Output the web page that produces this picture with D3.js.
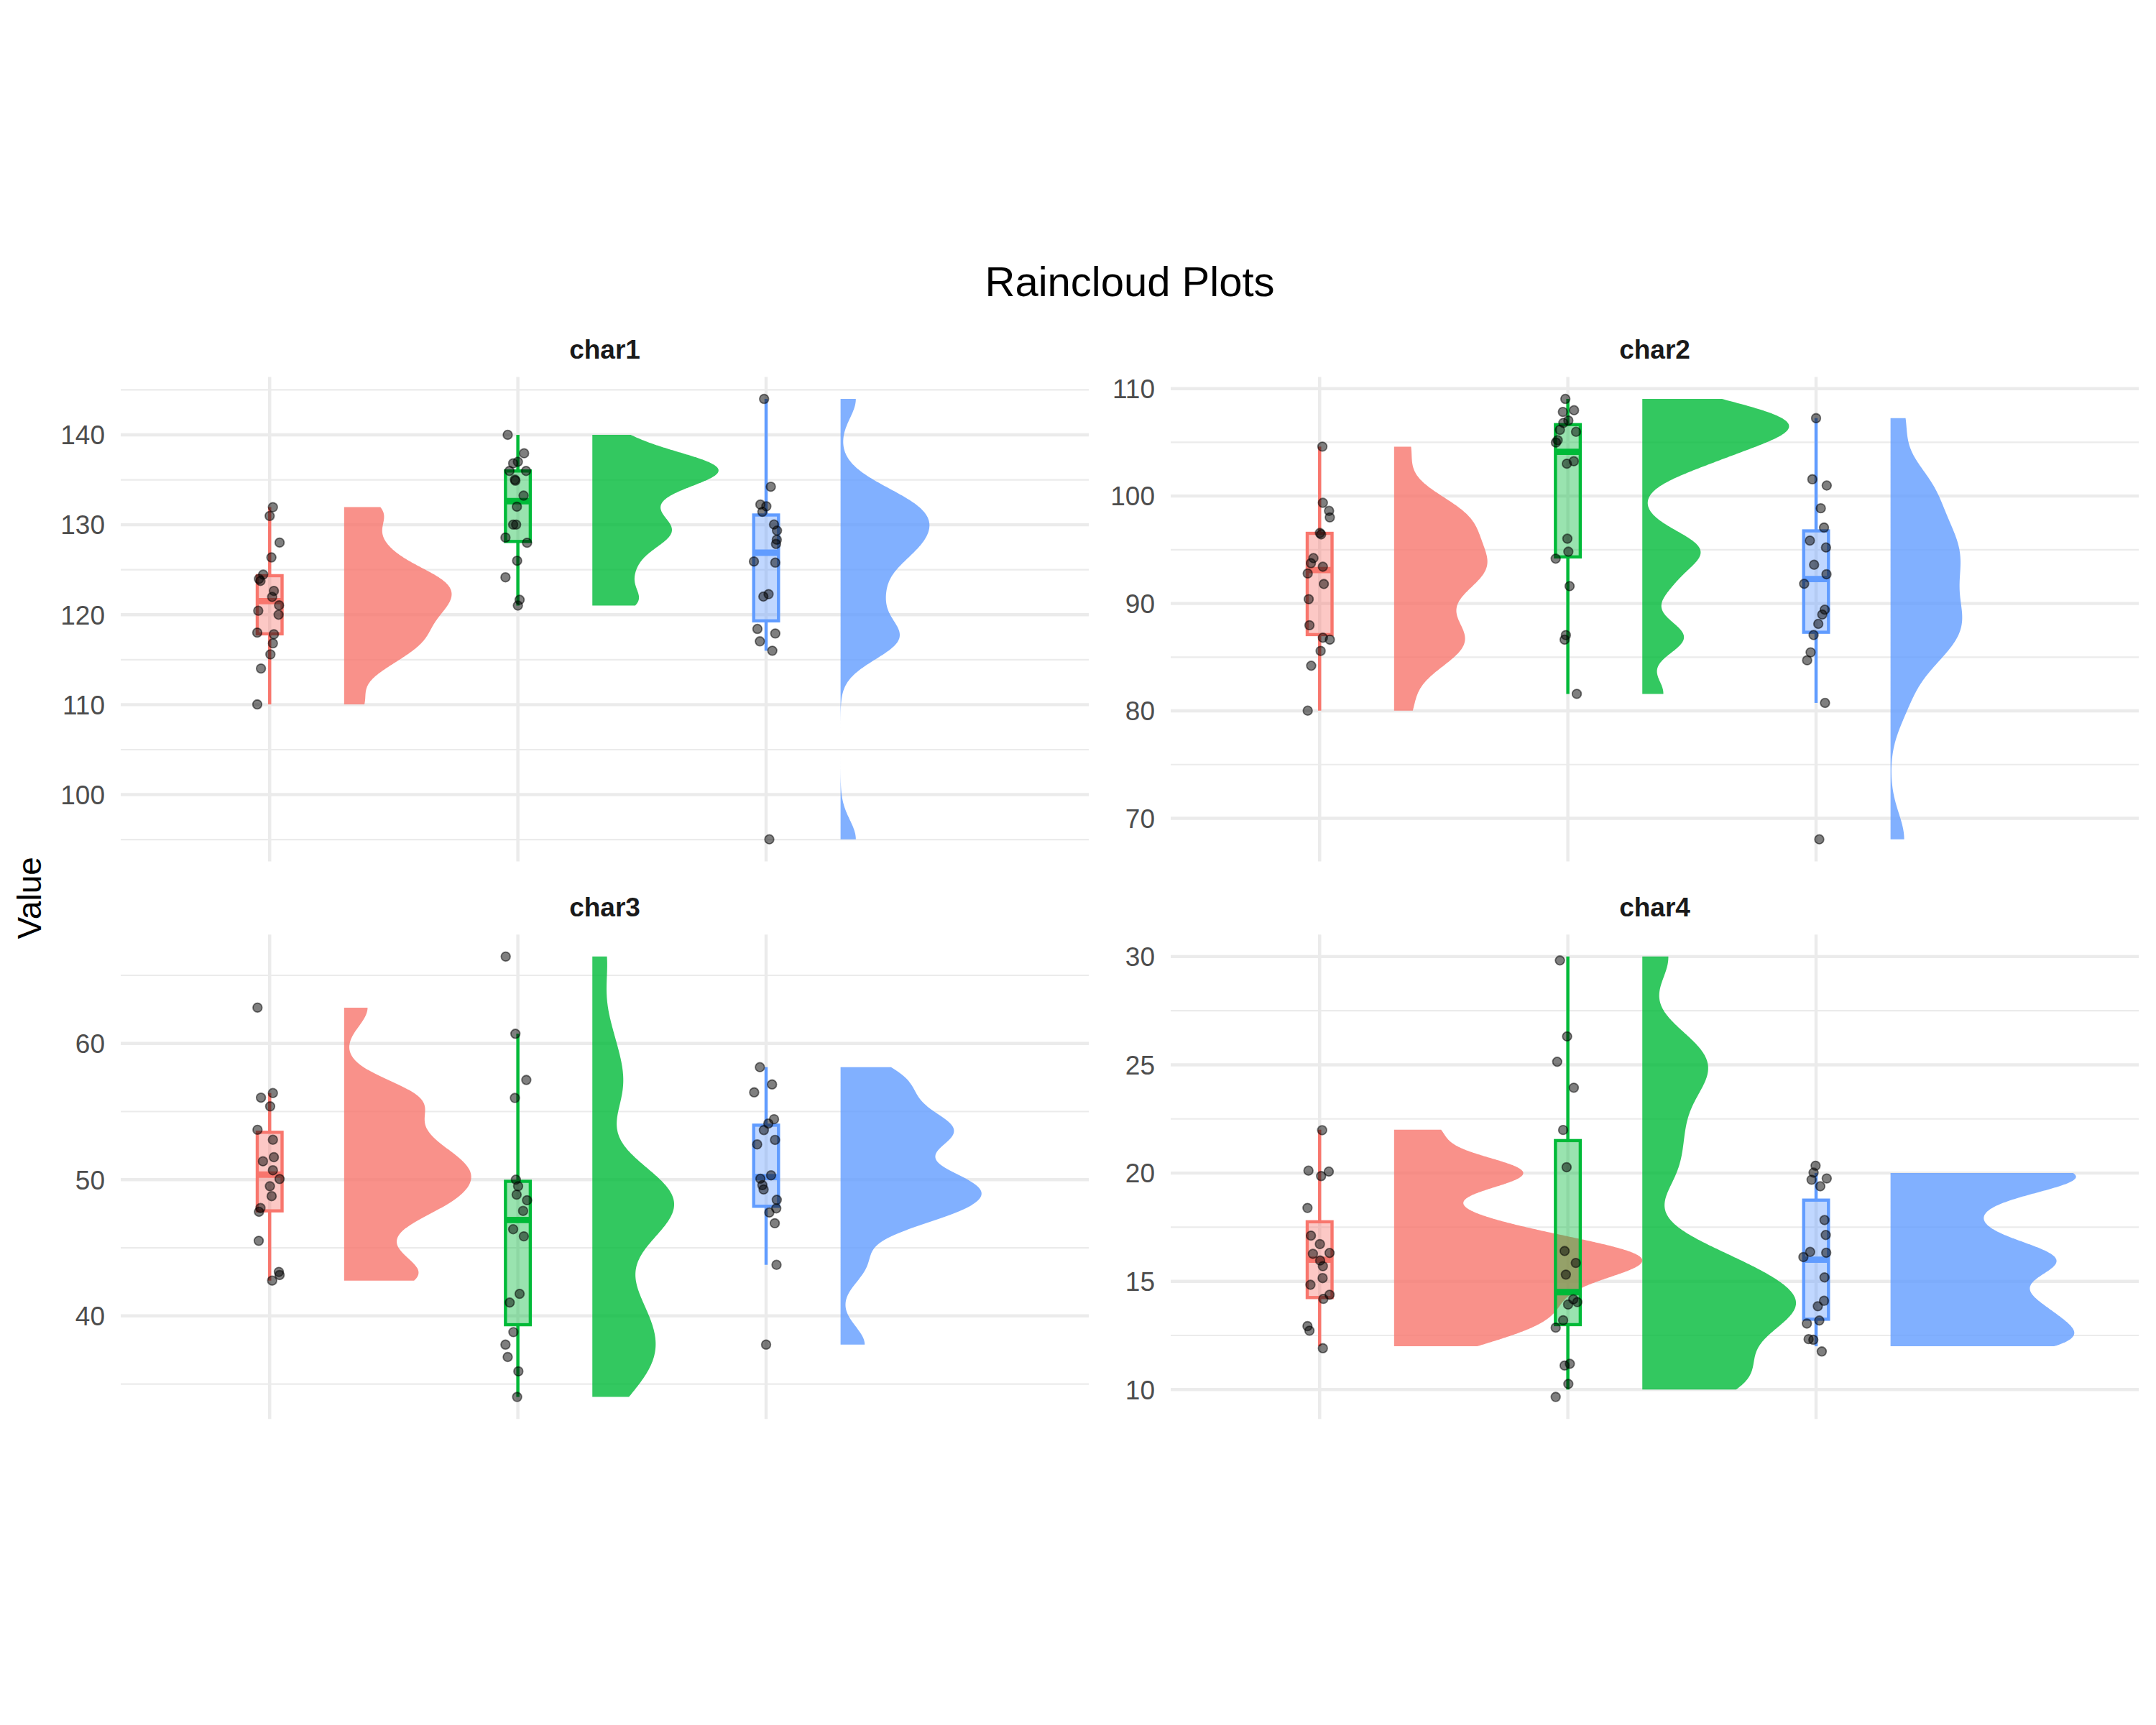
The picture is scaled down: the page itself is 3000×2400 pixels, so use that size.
<!DOCTYPE html>
<meta charset="utf-8">
<body style="margin:0;background:white">
  <div id="content"></div>
</body>
<script src="https://d3js.org/d3.v7.min.js"></script>
<script>
var facets = ["char1", "char2", "char3", "char4"];
var groups = ["g1", "g2", "g3"];
var colors = ["#F8766D", "#00BA38", "#619CFF"];

// each point: [value, x jitter]
var char1G1 = [[131.96, .013], [130.98, 0], [128.02, .040], [126.37, .007], [124.46, -.026], [123.98, -.043],
  [123.76, -.037], [122.65, .017], [121.98, .010], [121.05, .038], [120.44, -.046], [120.00, .036],
  [118.01, -.050], [117.83, .017], [116.82, .013], [115.59, .003], [114.02, -.035], [110.03, -.050]];
var char1G2 = [[140.00, -.041], [137.95, .025], [137.00, 0], [136.83, -.019], [135.98, -.034], [135.98, .033],
  [135.02, -.012], [134.90, -.010], [133.24, .023], [132.01, -.004], [130.02, -.019], [130.02, -.007],
  [128.58, -.050], [128.00, .037], [126.00, -.003], [124.16, -.050], [121.66, .007], [121.02, 0]];
var char1G3 = [[143.99, -.008], [134.23, .019], [132.25, -.023], [132.05, .001], [131.44, -.015], [130.03, .032],
  [129.35, .044], [128.34, .043], [127.87, .040], [125.92, -.049], [125.79, .037], [122.29, .010],
  [122.02, -.011], [118.42, -.035], [117.91, .037], [117.04, -.025], [116.00, .025], [95.03, .013]];

var char2G1 = [[104.60, .011], [99.37, .013], [98.62, .038], [98.01, .041], [96.56, .001], [96.43, .006],
  [94.22, -.025], [93.75, -.035], [93.42, .013], [92.79, -.048], [91.81, .017], [90.40, -.044],
  [87.97, -.041], [86.81, .013], [86.63, .041], [85.58, .004], [84.20, -.034], [80.02, -.048]];
var char2G2 = [[109.04, -.010], [107.99, .025], [107.83, -.020], [107.03, .002], [106.81, -.018], [106.16, -.032],
  [105.98, .033], [105.20, -.041], [104.98, -.048], [103.24, .024], [103.01, -.004], [96.03, -.002],
  [94.82, .002], [94.17, -.049], [91.61, .007], [87.05, -.008], [86.63, -.013], [81.58, .036]];
var char2G3 = [[107.25, 0], [101.56, -.015], [100.98, .043], [98.86, .019], [97.06, .032], [95.85, -.025],
  [95.21, .040], [93.60, -.008], [92.72, .042], [91.83, -.048], [89.42, .035], [88.97, .025],
  [88.10, .009], [87.06, -.010], [85.45, -.022], [84.71, -.036], [80.74, .036], [68.04, .013]];

var char3G1 = [[62.63, -.049], [56.36, .013], [56.02, -.035], [55.38, .002], [53.66, -.049], [52.93, .013],
  [51.65, .017], [51.35, -.027], [50.69, .013], [50.05, .040], [49.52, .001], [48.79, .008],
  [47.92, -.037], [47.64, -.043], [45.51, -.044], [43.23, .037], [43.00, .040], [42.59, .010]];
var char3G2 = [[66.38, -.049], [60.71, -.010], [57.32, .034], [56.00, -.012], [50.00, -.008], [49.52, .001],
  [48.90, -.005], [48.49, .037], [47.71, .021], [46.36, -.019], [45.84, .024], [41.62, .007],
  [40.98, -.033], [38.81, -.018], [37.89, -.050], [36.98, -.041], [35.93, .002], [34.05, -.003]];
var char3G3 = [[58.26, -.025], [56.99, .024], [56.41, -.048], [54.44, .032], [54.12, .009], [53.64, -.009],
  [52.92, .036], [52.59, -.036], [50.32, .020], [50.07, -.023], [49.60, -.015], [49.28, -.010],
  [48.52, .043], [47.89, .041], [47.59, .013], [46.80, .035], [43.75, .042], [37.89, 0]];

// char4 is whole numbers; its points were jittered up/down too: [value, x jitter, y jitter]
var char4G1 = [[22, .010, -.02], [20, -.045, .11], [20, .037, .07], [20, .006, -.14], [18, -.049, .39], [17, -.035, .11],
  [17, .001, -.28], [16, -.027, .27], [16, .040, .31], [16, .002, -.04], [16, .013, -.30], [15, .012, .15],
  [15, -.037, -.16], [14, .040, .38], [14, .015, .19], [13, -.049, -.07], [13, -.041, -.28], [12, .013, -.09]];
var char4G2 = [[30, -.032, -.18], [26, -.003, .31], [25, -.043, .14], [24, .024, -.06], [22, -.019, -.01], [20, -.005, .27],
  [16, -.013, .40], [16, .032, -.15], [15, -.008, .31], [14, .022, .17], [14, .001, -.07], [14, .038, .04],
  [13, -.019, .20], [13, -.049, -.14], [11, -.013, .11], [11, .008, .19], [10, .002, .26], [10, -.049, -.34]];
var char4G3 = [[20, -.002, .34], [20, -.010, .02], [20, -.018, -.31], [20, .043, -.25], [19, .017, .39], [18, .034, -.17],
  [17, .039, .14], [16, -.024, .36], [16, -.051, .12], [16, .041, .32], [15, .034, .18], [14, .032, .10],
  [14, .007, -.15], [13, -.037, .05], [13, .013, .19], [12, -.030, .33], [12, -.011, .30], [12, .023, -.24]];

var panelData = [
  [char1G1, char1G2, char1G3],
  [char2G1, char2G2, char2G3],
  [char3G1, char3G2, char3G3],
  [char4G1, char4G2, char4G3]
];

var chart = { width: 3000, height: 2400 };
var panel = { left: [168, 1629], top: [524.4, 1300.2], width: 1347, height: 674 };
var look = {
  xDomain: [0.4, 4.3],
  boxWidth: 0.1,
  nudge: 0.3,
  violinMax: 1.0,
  adjust: 0.5,
  grid: '#EBEBEB',
  font: '"Liberation Sans", Arial, Helvetica, sans-serif'
};

// Sheather-Jones direct plug-in bandwidth (as R bw.SJ(method = "dpi"))
function phi4(x, h) {
  var n = x.length, sum = 0;
  for (var i = 0; i < n; i++) for (var j = i + 1; j < n; j++) {
    var d = (x[i] - x[j]) / h; d *= d;
    sum += Math.exp(-d / 2) * (d * d - 6 * d + 3);
  }
  sum = 2 * sum + 3 * n;
  return sum / (n * (n - 1) * Math.pow(h, 5) * Math.sqrt(2 * Math.PI));
}
function phi6(x, h) {
  var n = x.length, sum = 0;
  for (var i = 0; i < n; i++) for (var j = i + 1; j < n; j++) {
    var d = (x[i] - x[j]) / h; d *= d;
    sum += Math.exp(-d / 2) * (d * d * d - 15 * d * d + 45 * d - 15);
  }
  sum = 2 * sum - 15 * n;
  return sum / (n * (n - 1) * Math.pow(h, 7) * Math.sqrt(2 * Math.PI));
}
function bandwidth(x) {
  var n = x.length;
  var s = x.slice().sort(d3.ascending);
  var scale = Math.min(d3.deviation(x), (d3.quantileSorted(s, .75) - d3.quantileSorted(s, .25)) / 1.349);
  var b = 1.23 * scale * Math.pow(n, -1 / 9);
  var c1 = 1 / (2 * Math.sqrt(Math.PI) * n);
  var td = -phi6(x, b);
  if (!(td > 0)) return 0.9 * scale * Math.pow(n, -0.2);
  return Math.pow(c1 / phi4(x, Math.pow(2.394 / (n * td), 1 / 7)), 1 / 5);
}
function density(x, bw) {
  var lo = d3.min(x), hi = d3.max(x), k = 1 / (x.length * bw * Math.sqrt(2 * Math.PI));
  return d3.range(512).map(function (i) {
    var y = lo + (hi - lo) * i / 511, s = 0;
    x.forEach(function (v) { var z = (y - v) / bw; s += Math.exp(-z * z / 2); });
    return [y, s * k];
  });
}
function boxStats(x) {
  var s = x.slice().sort(d3.ascending);
  var q1 = d3.quantileSorted(s, .25), q3 = d3.quantileSorted(s, .75), iqr = q3 - q1;
  return {
    q1: q1, med: d3.quantileSorted(s, .5), q3: q3,
    lo: d3.min(s.filter(function (v) { return v >= q1 - 1.5 * iqr; })),
    hi: d3.max(s.filter(function (v) { return v <= q3 + 1.5 * iqr; }))
  };
}

var svg = d3.select('#content').append('svg')
  .attr('width', chart.width).attr('height', chart.height)
  .style('background', 'white').style('font-family', look.font);

// densities first, widths are scaled against the widest one overall
var dens = panelData.map(function (pd) {
  return pd.map(function (pts) {
    var v = pts.map(function (d) { return d[0]; });
    return density(v, bandwidth(v) * look.adjust);
  });
});
var maxD = d3.max(dens, function (pd) { return d3.max(pd, function (dd) { return d3.max(dd, function (d) { return d[1]; }); }); });

var plotMid = (panel.left[0] + panel.left[1] + panel.width) / 2;
svg.append('text').attr('x', plotMid).attr('y', 412)
  .attr('text-anchor', 'middle').attr('font-size', 58).attr('fill', '#000').text('Raincloud Plots');

svg.append('text').attr('transform', 'translate(57,' + (panel.top[0] + panel.top[1] + panel.height) / 2 + ') rotate(-90)')
  .attr('text-anchor', 'middle').attr('font-size', 46).attr('fill', '#000').text('Value');

panelData.forEach(function (pd, p) {
  var left = panel.left[p % 2], top = panel.top[Math.floor(p / 2)];
  var g = svg.append('g');

  var all = [];
  pd.forEach(function (pts) { pts.forEach(function (d) { all.push(d[0], d[0] + (d[2] || 0)); }); });
  var ext = d3.extent(all), pad = (ext[1] - ext[0]) * 0.05;
  var y = d3.scaleLinear().domain([ext[0] - pad, ext[1] + pad]).range([top + panel.height, top]);
  var x = d3.scaleLinear().domain(look.xDomain).range([left, left + panel.width]);

  var majors = y.ticks(5), step = majors[1] - majors[0];
  var minors = [majors[0] - step / 2].concat(majors.map(function (m) { return m + step / 2; }))
    .filter(function (m) { return m >= y.domain()[0] && m <= y.domain()[1]; });

  g.selectAll('line.minor').data(minors).enter().append('line')
    .attr('x1', left).attr('x2', left + panel.width)
    .attr('y1', function (d) { return y(d); }).attr('y2', function (d) { return y(d); })
    .attr('stroke', look.grid).attr('stroke-width', 2.2);
  g.selectAll('line.major').data(majors).enter().append('line')
    .attr('x1', left).attr('x2', left + panel.width)
    .attr('y1', function (d) { return y(d); }).attr('y2', function (d) { return y(d); })
    .attr('stroke', look.grid).attr('stroke-width', 4.4);
  g.selectAll('line.vert').data(groups).enter().append('line')
    .attr('x1', function (d, i) { return x(i + 1); }).attr('x2', function (d, i) { return x(i + 1); })
    .attr('y1', top).attr('y2', top + panel.height)
    .attr('stroke', look.grid).attr('stroke-width', 4.4);

  g.selectAll('text.tick').data(majors).enter().append('text')
    .attr('x', left - 22).attr('y', function (d) { return y(d); }).attr('dy', '0.36em')
    .attr('text-anchor', 'end').attr('font-size', 37).attr('fill', '#4D4D4D')
    .text(function (d) { return d; });

  g.append('text').attr('x', left + panel.width / 2).attr('y', top - 25)
    .attr('text-anchor', 'middle').attr('font-size', 37).attr('font-weight', 'bold').attr('fill', '#1A1A1A')
    .text(facets[p]);

  // half violins
  dens[p].forEach(function (dd, i) {
    var area = d3.area()
      .x0(x(i + 1 + look.nudge))
      .x1(function (d) { return x(i + 1 + look.nudge + d[1] / maxD * look.violinMax); })
      .y(function (d) { return y(d[0]); });
    g.append('path').datum(dd).attr('d', area)
      .attr('fill', colors[i]).attr('fill-opacity', 0.8);
  });

  // boxes
  pd.forEach(function (pts, i) {
    var s = boxStats(pts.map(function (d) { return d[0]; }));
    var cx = x(i + 1), bx0 = x(i + 1 - look.boxWidth / 2), bx1 = x(i + 1 + look.boxWidth / 2);
    g.append('line').attr('x1', cx).attr('x2', cx).attr('y1', y(s.q3)).attr('y2', y(s.hi))
      .attr('stroke', colors[i]).attr('stroke-width', 4.4);
    g.append('line').attr('x1', cx).attr('x2', cx).attr('y1', y(s.q1)).attr('y2', y(s.lo))
      .attr('stroke', colors[i]).attr('stroke-width', 4.4);
    g.append('rect').attr('x', bx0).attr('width', bx1 - bx0).attr('y', y(s.q3)).attr('height', y(s.q1) - y(s.q3))
      .attr('fill', colors[i]).attr('fill-opacity', 0.4).attr('stroke', colors[i]).attr('stroke-width', 4.4);
    g.append('line').attr('x1', bx0).attr('x2', bx1).attr('y1', y(s.med)).attr('y2', y(s.med))
      .attr('stroke', colors[i]).attr('stroke-width', 8.8);
  });

  // jittered points
  pd.forEach(function (pts, i) {
    g.selectAll('circle.g' + i).data(pts).enter().append('circle')
      .attr('cx', function (d) { return x(i + 1 + d[1]); })
      .attr('cy', function (d) { return y(d[0] + (d[2] || 0)); })
      .attr('r', 6.3)
      .attr('fill', 'rgba(0,0,0,0.5)').attr('stroke', 'rgba(0,0,0,0.5)').attr('stroke-width', 1.8);
  });
});
</script>
